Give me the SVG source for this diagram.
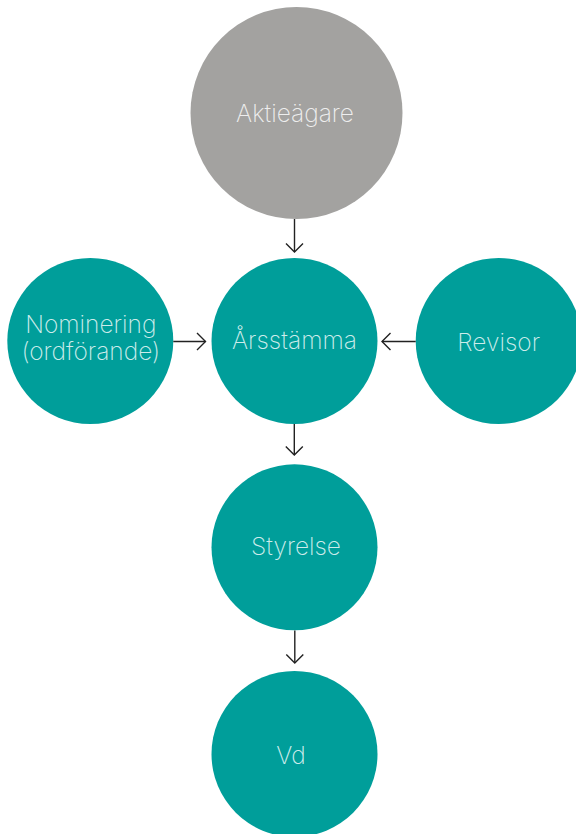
<svg xmlns="http://www.w3.org/2000/svg" width="576" height="834" viewBox="0 0 576 834">
<defs>
<style>
.t{font-family:Inter,Roboto,"Liberation Sans",sans-serif;font-weight:200;font-size:24.5px;text-anchor:middle}
.teal{fill:#009e9a}
.tt{fill:#cdeceb}
.gray{fill:#a3a2a0}
.gt{fill:#eeeeee}
.c{stroke:#222;stroke-width:1.4;fill:none}
</style>
<marker id="ah" viewBox="0 0 20 20" refX="10" refY="10" markerWidth="20" markerHeight="20" markerUnits="userSpaceOnUse" orient="auto">
<path d="M1.5,1.5 L10,10 L1.5,18.5" fill="none" stroke="#222" stroke-width="1.4"/>
</marker>
</defs>
<rect width="576" height="834" fill="#ffffff"/>
<g id="aktieagare"><circle class="gray" cx="296.5" cy="113" r="106"/><text class="t gt" x="295" y="121.5">Aktieägare</text></g>
<g id="arsstamma"><circle class="teal" cx="294.5" cy="341" r="83"/><text class="t tt" x="294.5" y="349">Årsstämma</text></g>
<g id="nominering"><circle class="teal" cx="90.3" cy="341" r="83"/><text class="t tt" x="90.8" y="333">Nominering</text><text class="t tt" x="90.8" y="360">(ordförande)</text></g>
<g id="revisor"><circle class="teal" cx="498.7" cy="341" r="83"/><text class="t tt" x="498.7" y="350.5">Revisor</text></g>
<g id="styrelse"><circle class="teal" cx="294.5" cy="547.3" r="83"/><text class="t tt" x="296" y="555">Styrelse</text></g>
<g id="vd"><circle class="teal" cx="294.5" cy="754" r="83"/><text class="t tt" x="291" y="764">Vd</text></g>
<g id="connectors">
<line class="c" x1="294.5" y1="219" x2="294.5" y2="252" marker-end="url(#ah)"/>
<line class="c" x1="173.3" y1="341.5" x2="205.5" y2="341.5" marker-end="url(#ah)"/>
<line class="c" x1="415.7" y1="341.5" x2="382" y2="341.5" marker-end="url(#ah)"/>
<line class="c" x1="294.3" y1="424" x2="294.3" y2="455" marker-end="url(#ah)"/>
<line class="c" x1="294.8" y1="630.5" x2="294.8" y2="663" marker-end="url(#ah)"/>
</g>
</svg>
